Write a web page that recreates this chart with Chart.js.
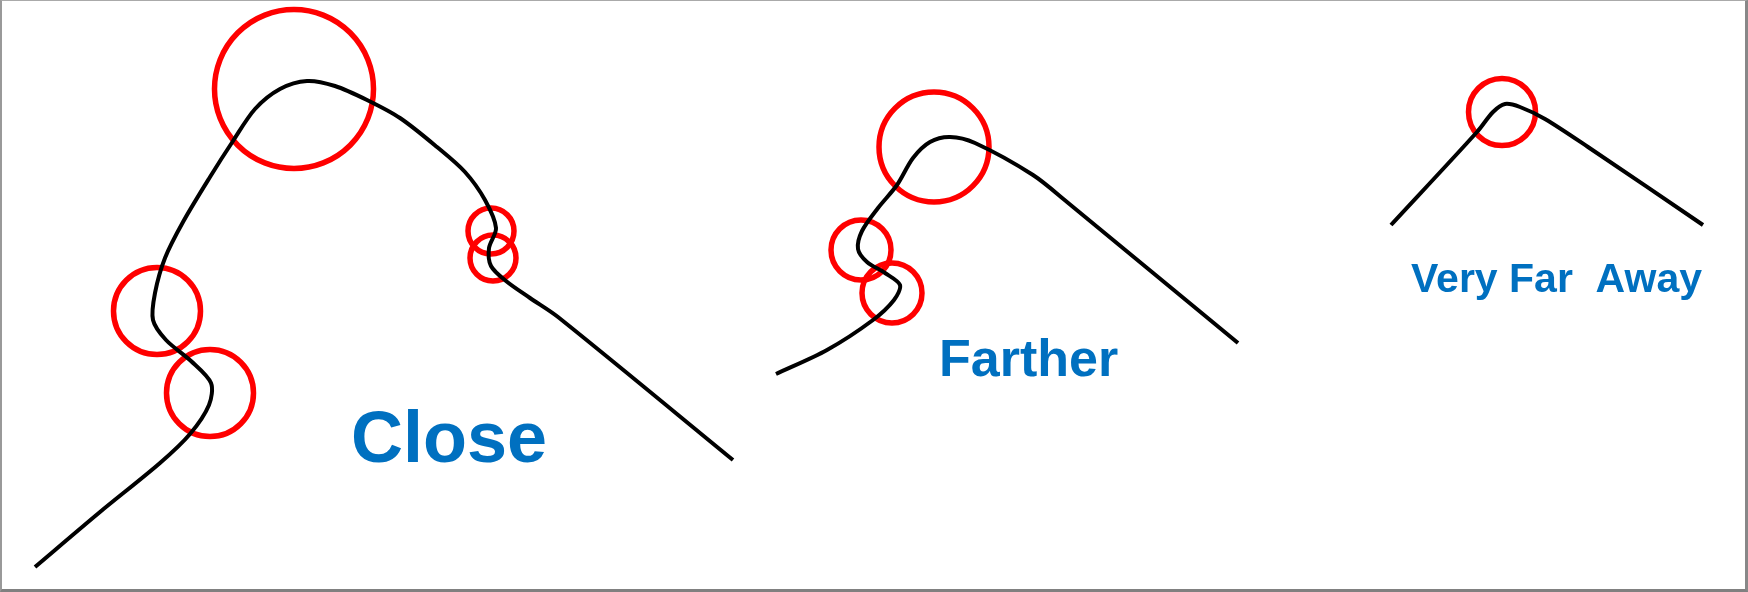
<!DOCTYPE html>
<html>
<head>
<meta charset="utf-8">
<title>Close, Farther, Very Far Away</title>
<script src="https://cdn.jsdelivr.net/npm/chart.js@4/dist/chart.umd.min.js"></script>
<style>
    html, body { margin: 0; padding: 0; background: #fff; }
    #wrap { position: relative; width: 1748px; height: 592px; }
    #frame {
        position: absolute; left: 0; top: 0; right: 0; bottom: 0;
        border-top: 1px solid #aaa;
        border-left: 2px solid #999;
        border-right: 3px solid #888;
        border-bottom: 3px solid #808080;
        pointer-events: none;
    }
</style>
</head>
<body>
<div id="wrap">
    <canvas id="sketch"></canvas>
    <div id="frame"></div>
</div>
<script>
// Ridge lines (x, y in picture units, y grows downward)
const closeX = [35, 100, 160, 190, 209, 211, 191, 166, 153, 155, 165, 183, 210, 233, 255, 280, 307, 335, 367, 400, 437, 465, 485, 496, 489, 491, 506, 530, 558, 733];
const closeY = [567, 512, 463, 434, 405, 383, 361, 340, 320, 293, 258, 222, 177, 141, 109, 89, 81, 86, 100, 118, 147, 172, 200, 228, 248, 266, 281, 298, 317, 460];

const fartherX = [776, 827, 873, 894, 900, 885, 867, 858, 862, 878, 897, 913, 930, 950, 975, 1033, 1067, 1238];
const fartherY = [374, 350, 320, 300, 285, 273, 262, 249, 231, 208, 185, 158, 142, 137, 143, 175, 202, 343];

const farAwayX = [1391, 1477, 1493, 1505, 1520, 1545, 1588, 1703];
const farAwayY = [225, 132, 112, 104, 107, 119, 147, 225];

// Red rings: centre and radius
const ringX = [294, 157, 210, 491, 493, 934, 861, 892, 1502];
const ringY = [89, 311, 393, 231, 258, 147, 250, 293, 112];
const ringR = [79.5, 43.5, 43.5, 23, 23, 55, 30, 30, 33.5];

// Captions
const captions = ['Close', 'Farther', 'Very Far  Away'];

const toPoints = (xs, ys) => xs.map((x, i) => ({ x: x, y: ys[i] }));

const ridge = (xs, ys) => ({
    type: 'line',
    data: toPoints(xs, ys),
    borderColor: '#000',
    borderWidth: 4,
    pointRadius: 0,
    tension: 0.3,
    fill: false,
    clip: false
});

// where each caption sits (left edge, baseline) and its size
const captionLayout = [
    { x: 351, y: 462, size: 72 },
    { x: 939, y: 376, size: 52 },
    { x: 1411, y: 292, size: 41 }
];

const captionPlugin = {
    id: 'captions',
    afterDatasetsDraw(chart) {
        const ctx = chart.ctx;
        const sx = chart.scales.x;
        const sy = chart.scales.y;
        ctx.save();
        ctx.fillStyle = '#0070C0';
        ctx.textAlign = 'left';
        ctx.textBaseline = 'alphabetic';
        captions.forEach((text, i) => {
            const c = captionLayout[i];
            ctx.font = `bold ${c.size}px "Liberation Sans", Arial, sans-serif`;
            ctx.fillText(text, sx.getPixelForValue(c.x), sy.getPixelForValue(c.y));
        });
        ctx.restore();
    }
};

const ctx = document.getElementById('sketch').getContext('2d');
new Chart(ctx, {
    data: {
        datasets: [
            ridge(closeX, closeY),
            ridge(fartherX, fartherY),
            ridge(farAwayX, farAwayY),
            {
                type: 'bubble',
                data: ringX.map((x, i) => ({ x: x, y: ringY[i], r: ringR[i] })),
                backgroundColor: 'rgba(0,0,0,0)',
                borderColor: '#ff0000',
                borderWidth: 5.5,
                clip: false
            }
        ]
    },
    options: {
        responsive: true,
        maintainAspectRatio: false,
        animation: false,
        events: [],
        layout: { padding: 0, autoPadding: false },
        plugins: {
            legend: { display: false },
            tooltip: { enabled: false },
            title: { display: false }
        },
        scales: {
            x: { type: 'linear', min: 0, max: 1748, display: false },
            y: { type: 'linear', min: 0, max: 592, reverse: true, display: false }
        }
    },
    plugins: [captionPlugin]
});
</script>
</body>
</html>
